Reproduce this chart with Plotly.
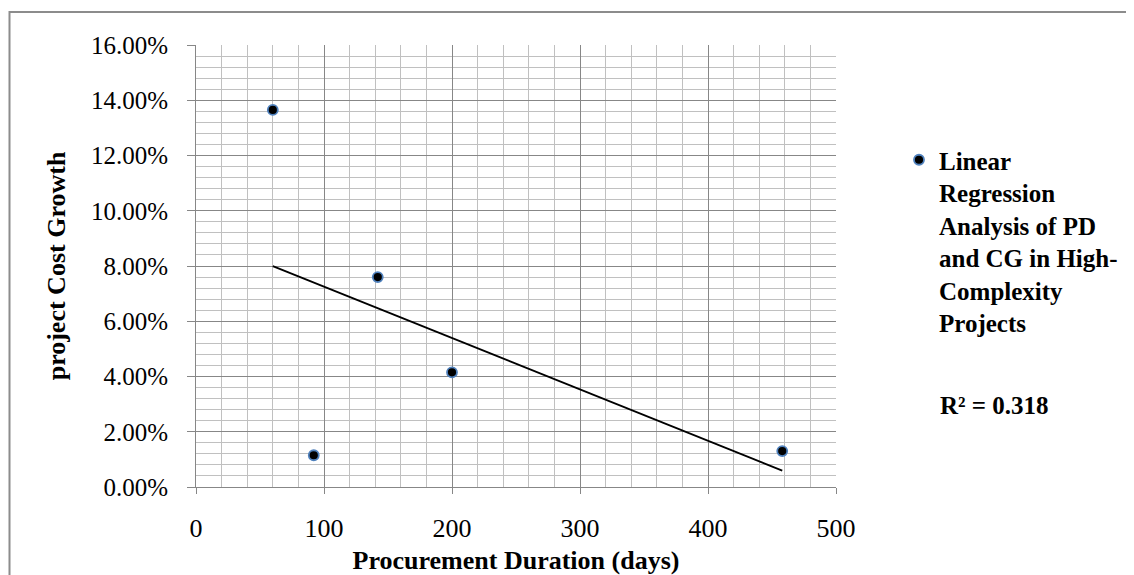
import numpy as np
import plotly.graph_objects as go

# Data
duration_days = [60, 92, 142, 200, 458]
cost_growth = [0.1365, 0.0115, 0.0760, 0.0415, 0.0130]
series_name = "Linear<br>Regression<br>Analysis of PD<br>and CG in High-<br>Complexity<br>Projects"
r2_label = "R² = 0.318"
x_ticks = [0, 100, 200, 300, 400, 500]

# Linear trend line fitted from the data
slope, intercept = np.polyfit(duration_days, cost_growth, 1)
trend_x = [min(duration_days), max(duration_days)]
trend_y = [slope * v + intercept for v in trend_x]

FONT = "Liberation Serif"
MAJOR = "#878787"
MINOR = "#c0c0c0"

fig = go.Figure()
fig.add_trace(go.Scatter(
    x=trend_x, y=trend_y, mode="lines",
    line=dict(color="black", width=1.8),
    showlegend=False, hoverinfo="skip",
))
fig.add_trace(go.Scatter(
    x=duration_days, y=cost_growth, mode="markers",
    name="<b>" + series_name + "</b>",
    marker=dict(size=10, color="black", line=dict(color="#4f81bd", width=1.8)),
))

# page has an 8px body margin; figure coords = page coords - 8
OFF = 8
W, H = 1134 - OFF, 575 - OFF
L, T = 196 - OFF, 45 - OFF
PW, PH = 640, 442
R = W - L - PW
B = H - T - PH

def px_x(p):  # page pixel -> paper
    return (p - OFF - L) / PW

def px_y(p):
    return (T + PH - (p - OFF)) / PH

fig.update_layout(
    width=W, height=H,
    margin=dict(l=L, r=R, t=T, b=B, autoexpand=False),
    paper_bgcolor="white", plot_bgcolor="white",
    font=dict(family=FONT, size=25, color="black"),
    showlegend=True,
    legend=dict(
        x=px_x(899), y=px_y(137), xanchor="left", yanchor="top",
        font=dict(family=FONT, size=25, color="black"),
        bgcolor="rgba(0,0,0,0)", itemwidth=30, tracegroupgap=0,
        valign="top",
    ),
    xaxis=dict(
        range=[0, 500], tickvals=x_ticks, ticktext=[str(v) for v in x_ticks],
        tickfont=dict(family=FONT, size=26),
        showgrid=True, gridcolor=MAJOR, gridwidth=1,
        minor=dict(dtick=20, showgrid=True, gridcolor=MINOR, gridwidth=1, ticks=""),
        showline=True, linecolor=MAJOR, linewidth=1,
        ticks="outside", ticklen=6, tickcolor=MAJOR, tickwidth=1,
        ticklabelstandoff=12,
        zeroline=False, automargin=False,
        title=dict(text="<b>Procurement Duration (days)</b>", standoff=18,
                   font=dict(family=FONT, size=26)),
    ),
    yaxis=dict(
        range=[0, 0.16], dtick=0.02, tick0=0, tickformat=".2%",
        showgrid=True, gridcolor=MAJOR, gridwidth=1,
        minor=dict(dtick=0.004, showgrid=True, gridcolor=MINOR, gridwidth=1, ticks=""),
        showline=True, linecolor=MAJOR, linewidth=1,
        ticks="outside", ticklen=8, tickcolor=MAJOR, tickwidth=1,
        ticklabelstandoff=14,
        zeroline=False, automargin=False,
        title=dict(text="<b>project Cost Growth</b>", standoff=17,
                   font=dict(family=FONT, size=26)),
    ),
    annotations=[dict(
        xref="paper", yref="paper", x=px_x(938), y=px_y(405),
        xanchor="left", yanchor="middle", showarrow=False,
        text="<b>" + r2_label + "</b>",
        font=dict(family=FONT, size=25, color="black"),
    )],
    shapes=[dict(
        type="rect", xref="paper", yref="paper",
        x0=px_x(9.5), x1=px_x(1160), y0=px_y(600), y1=px_y(12),
        line=dict(color="#8c8c8c", width=2), fillcolor="rgba(0,0,0,0)",
        layer="below",
    )],
)

fig.write_html("out.html")
